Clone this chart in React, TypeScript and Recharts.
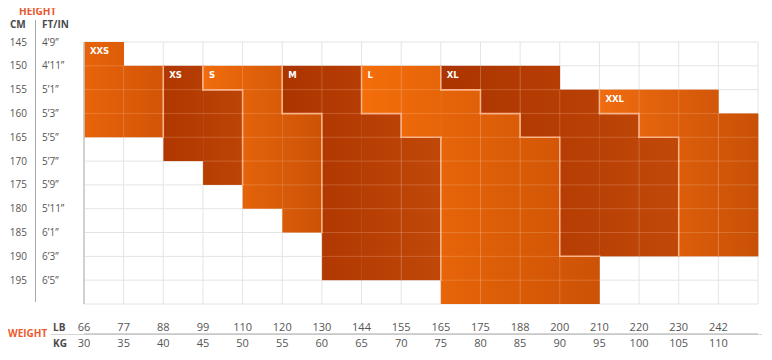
import React from "react";
import { ComposedChart, Bar, XAxis, YAxis, CartesianGrid } from "recharts";

// ---- data ----
const weightLb = ["66", "77", "88", "99", "110", "120", "130", "144", "155", "165", "175", "188", "200", "210", "220", "230", "242"];
const weightKg = ["30", "35", "40", "45", "50", "55", "60", "65", "70", "75", "80", "85", "90", "95", "100", "105", "110"];
const heightCm = ["145", "150", "155", "160", "165", "170", "175", "180", "185", "190", "195"];
const heightFtIn = ["4’9”", "4’11”", "5’1”", "5’3”", "5’5”", "5’7”", "5’9”", "5’11”", "6’1”", "6’3”", "6’5”"];
const sizeNames = ["XXS", "XS", "S", "M", "L", "XL", "XXL"];
// per weight column (top to bottom): empty rows, upper size block, lower size block
const emptyRows = [0, 1, 1, 1, 1, 1, 1, 1, 1, 1, 1, 1, 2, 2, 2, 2, 3];
const upperSize = ["XXS", "XXS", "XS", "S", "S", "M", "M", "L", "L", "XL", "XL", "XL", "XL", "XXL", "XXL", "XXL", "XXL"];
const upperRows = [4, 3, 4, 1, 6, 2, 9, 2, 3, 1, 2, 3, 7, 1, 2, 7, 6];
const lowerSize = ["", "", "", "XS", "", "S", "", "M", "M", "L", "L", "L", "L", "XL", "XL", "", ""];
const lowerRows = [0, 0, 0, 4, 0, 5, 0, 7, 6, 9, 8, 7, 2, 6, 5, 0, 0];

const ROWS = heightCm.length;
const COLS = weightLb.length;

const data = weightLb.map((_, c) => ({
  col: c,
  below: ROWS - emptyRows[c] - upperRows[c] - lowerRows[c],
  lower: lowerRows[c],
  upper: upperRows[c],
}));

// ---- styles ----
const SIZE_COLORS: Record<string, [string, string]> = {
  XXS: ["#e8640a", "#d25406"],
  XS: ["#b03800", "#bc4406"],
  S: ["#f06c0c", "#cc5206"],
  M: ["#ac3400", "#c04808"],
  L: ["#f46e0a", "#cc5206"],
  XL: ["#ac3400", "#c04808"],
  XXL: ["#f06c10", "#c85006"],
};
const BORDER = "#f9b48c";
const FAINT = "rgba(255,220,190,0.22)";
const FONT = "'Open Sans', 'DejaVu Sans', sans-serif";

function hexToRgb(h: string) {
  const n = parseInt(h.slice(1), 16);
  return [(n >> 16) & 255, (n >> 8) & 255, n & 255];
}
function mix(a: string, b: string, t: number) {
  const A = hexToRgb(a);
  const B = hexToRgb(b);
  const r = A.map((v, i) => Math.round(v + (B[i] - v) * t));
  return `rgb(${r[0]},${r[1]},${r[2]})`;
}

function sizeAt(c: number, r: number): string {
  if (c < 0 || c >= COLS || r < 0 || r >= ROWS) return "";
  const e = emptyRows[c];
  if (r < e) return "";
  if (r < e + upperRows[c]) return upperSize[c];
  if (r < e + upperRows[c] + lowerRows[c]) return lowerSize[c];
  return "";
}

function sizeSpan(s: string): [number, number] {
  let first = COLS;
  let last = -1;
  for (let c = 0; c < COLS; c++) {
    if (upperSize[c] === s || lowerSize[c] === s) {
      first = Math.min(first, c);
      last = Math.max(last, c);
    }
  }
  return [first, last];
}

const renderCell = (part: "upper" | "lower") => (props: any) => {
  const { x, y, width, height, payload } = props;
  const c = payload.col;
  const size = part === "upper" ? upperSize[c] : lowerSize[c];
  const rows = part === "upper" ? upperRows[c] : lowerRows[c];
  if (!size || !rows || !height) return <g />;
  let top = y;
  let h = height;
  if (h < 0) {
    top = y + h;
    h = -h;
  }
  const r0 = emptyRows[c] + (part === "upper" ? 0 : upperRows[c]);
  const rowH = h / rows;
  const [first, last] = sizeSpan(size);
  const n = last - first + 1;
  const [ca, cb] = SIZE_COLORS[size];
  const gid = `grad-${part}-${c}`;
  const faint: any[] = [];
  for (let k = 1; k < rows; k++) {
    const yy = top + k * rowH;
    faint.push(<line key={`f${k}`} x1={x} x2={x + width} y1={yy} y2={yy} stroke={FAINT} strokeWidth={1} />);
  }
  faint.push(<line key="fl" x1={x} x2={x} y1={top} y2={top + h} stroke={FAINT} strokeWidth={1} />);
  const strong: any[] = [];
  for (let r = r0; r < r0 + rows; r++) {
    const yA = top + (r - r0) * rowH;
    const yB = yA + rowH;
    const left = sizeAt(c - 1, r);
    if (left && left !== size)
      strong.push(<line key={`l${r}`} x1={x} x2={x} y1={yA - 0.75} y2={yB + 0.75} stroke={BORDER} strokeWidth={1.5} />);
    const right = sizeAt(c + 1, r);
    if (right && right !== size)
      strong.push(<line key={`r${r}`} x1={x + width} x2={x + width} y1={yA - 0.75} y2={yB + 0.75} stroke={BORDER} strokeWidth={1.5} />);
  }
  const above = sizeAt(c, r0 - 1);
  if (above && above !== size)
    strong.push(<line key="t" x1={x - 0.75} x2={x + width + 0.75} y1={top} y2={top} stroke={BORDER} strokeWidth={1.5} />);
  const below = sizeAt(c, r0 + rows);
  if (below && below !== size)
    strong.push(<line key="b" x1={x - 0.75} x2={x + width + 0.75} y1={top + h} y2={top + h} stroke={BORDER} strokeWidth={1.5} />);
  const showLabel = part === "upper" && c === first;
  return (
    <g>
      <defs>
        <linearGradient id={gid} x1="0" y1="0" x2="1" y2="0">
          <stop offset="0%" stopColor={mix(ca, cb, (c - first) / n)} />
          <stop offset="100%" stopColor={mix(ca, cb, (c + 1 - first) / n)} />
        </linearGradient>
      </defs>
      <rect x={x} y={top} width={width} height={h} fill={`url(#${gid})`} />
      {faint}
      {strong}
      {showLabel && (
        <text x={x + 6} y={top + 12} fill="#ffffff" fontSize={8.5} fontWeight="bold" fontFamily="'DejaVu Sans', sans-serif">
          {size}
        </text>
      )}
    </g>
  );
};

// label rows below the grid (LB above the rule, KG below it)
const LB_Y = 331;
const KG_Y = 347;
const CM_RIGHT = 27;
const FT_LEFT = 42;

const WeightTick = (props: any) => {
  const { x, payload } = props;
  const i = payload.value;
  if (i >= COLS) return <g />;
  return (
    <g>
      <text x={x} y={LB_Y} textAnchor="middle" fontSize={11} fill="#555" fontFamily={FONT}>
        {weightLb[i]}
      </text>
      <text x={x} y={KG_Y} textAnchor="middle" fontSize={11} fill="#555" fontFamily={FONT}>
        {weightKg[i]}
      </text>
    </g>
  );
};

const RowTick = (props: any) => {
  const { y, payload } = props;
  const v = payload.value;
  if (v <= 0) return <g />;
  return (
    <g>
      <text x={CM_RIGHT} y={y} dy={3.5} textAnchor="end" fontSize={10} fill="#555" fontFamily={FONT}>
        {heightCm[ROWS - v]}
      </text>
      <text x={FT_LEFT} y={y} dy={3.5} textAnchor="start" fontSize={10} fill="#555" fontFamily={FONT}>
        {heightFtIn[ROWS - v]}
      </text>
    </g>
  );
};

const rowTicks = Array.from({ length: ROWS + 1 }, (_, i) => i);
const colTicks = Array.from({ length: COLS + 1 }, (_, i) => i);

export default function App() {
  return (
    <div style={{ margin: -8, width: 772, height: 360 }}>
      <ComposedChart
        width={772}
        height={360}
        data={data}
        margin={{ top: 42, right: 14, bottom: 0, left: 8 }}
        barCategoryGap={0}
        barGap={0}
      >
        <XAxis xAxisId="cols" dataKey="col" type="category" hide />
        <XAxis
          xAxisId="num"
          dataKey="col"
          type="number"
          domain={[0, COLS]}
          ticks={colTicks}
          interval={0}
          height={56}
          tickSize={0}
          tickMargin={0}
          tickLine={false}
          axisLine={{ stroke: "#c6c6c6", strokeWidth: 1.5 }}
          tick={WeightTick}
          allowDataOverflow
        />
        <YAxis
          yAxisId="in"
          type="number"
          domain={[0, ROWS]}
          ticks={rowTicks}
          interval={0}
          width={76}
          tickSize={0}
          tickLine={false}
          axisLine={{ stroke: "#c6c6c6", strokeWidth: 1.5 }}
          tick={RowTick}
        />
        <YAxis
          yAxisId="right"
          orientation="right"
          type="number"
          domain={[0, ROWS]}
          width={0}
          tick={false}
          tickLine={false}
          axisLine={{ stroke: "#bdbdbd" }}
        />
        <CartesianGrid xAxisId="num" yAxisId="in" stroke="#e4e4e4" />
        <Bar xAxisId="cols" yAxisId="in" dataKey="below" stackId="s" fill="none" isAnimationActive={false} />
        <Bar xAxisId="cols" yAxisId="in" dataKey="lower" stackId="s" shape={renderCell("lower")} isAnimationActive={false} />
        <Bar xAxisId="cols" yAxisId="in" dataKey="upper" stackId="s" shape={renderCell("upper")} isAnimationActive={false} />

        <text x={19} y={15} fontSize={10} fontWeight="bold" fill="#e8552c" fontFamily={FONT}>HEIGHT</text>
        <text x={10} y={28} fontSize={10} fontWeight="bold" fill="#4a4a4a" fontFamily={FONT}>CM</text>
        <text x={42} y={28} fontSize={10} fontWeight="bold" fill="#4a4a4a" fontFamily={FONT}>FT/IN</text>
        <line x1={35.5} x2={35.5} y1={20} y2={302} stroke="#a8a8a8" />
        <text x={8} y={337} fontSize={10} fontWeight="bold" fill="#ee5a2e" fontFamily={FONT}>WEIGHT</text>
        <text x={53} y={331} fontSize={10} fontWeight="bold" fill="#4a4a4a" fontFamily={FONT}>LB</text>
        <text x={53} y={347} fontSize={10} fontWeight="bold" fill="#4a4a4a" fontFamily={FONT}>KG</text>
        <line x1={51} x2={762} y1={334.5} y2={334.5} stroke="#d4d4d4" />
      </ComposedChart>
    </div>
  );
}
